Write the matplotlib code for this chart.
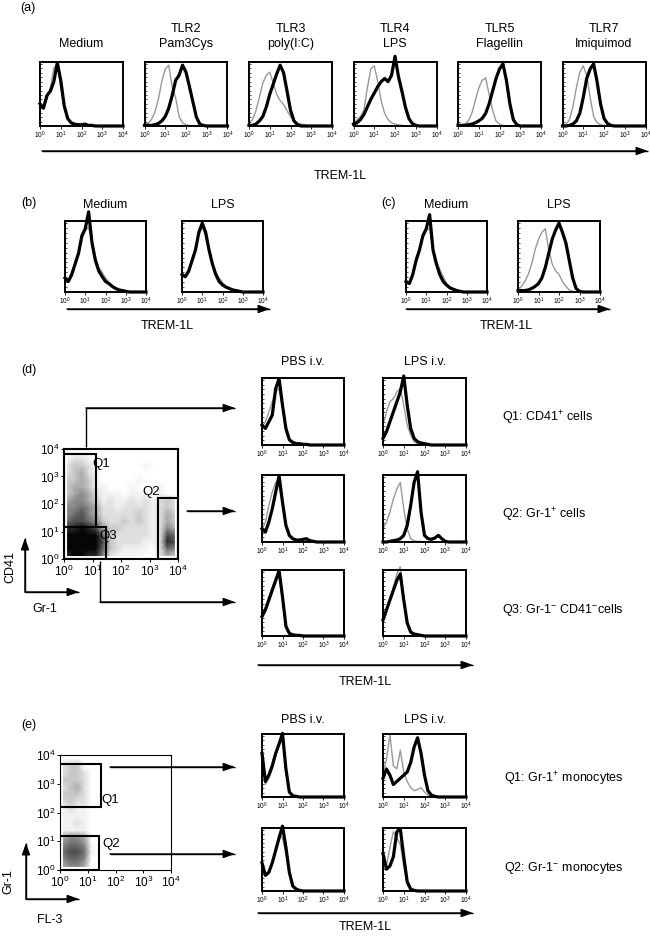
import numpy as np
import matplotlib
matplotlib.use('Agg')
import matplotlib.pyplot as plt
from matplotlib.patches import Rectangle

plt.rcParams['font.family'] = ['Liberation Sans', 'DejaVu Sans']
plt.rcParams['mathtext.fontset'] = 'custom'
plt.rcParams['mathtext.rm'] = 'Liberation Sans'
plt.rcParams['mathtext.it'] = 'Liberation Sans:italic'
plt.rcParams['mathtext.bf'] = 'Liberation Sans:bold'

W, H = 650, 936

# fluorescence channels: 6 per decade, 10^0 .. 10^4
channels = np.logspace(0, 4, 25)

# ---- (a) TLR ligands, % of max events (gray = isotype, black = TREM-1L)
a_titles = ['Medium', 'TLR2\nPam3Cys', 'TLR3\npoly(I:C)', 'TLR4\nLPS',
            'TLR5\nFlagellin', 'TLR7\nImiquimod']
a_gray = [
    [30, 30, 42, 60, 92, 95, 62, 28, 10, 4, 2, 1, 1, 2, 1, 0, 0, 0, 0, 0, 0, 0, 0, 0, 0],
    [2, 4, 10, 22, 42, 70, 90, 96, 62, 45, 15, 5, 2, 1, 0, 0, 0, 0, 0, 0, 0, 0, 0, 0, 0],
    [5, 10, 24, 45, 68, 80, 85, 68, 50, 40, 34, 24, 15, 9, 5, 3, 2, 0, 0, 0, 0, 0, 0, 0, 0],
    [5, 10, 15, 25, 60, 90, 95, 70, 40, 20, 10, 5, 3, 2, 1, 0, 0, 0, 0, 0, 0, 0, 0, 0, 0],
    [0, 1, 3, 8, 20, 40, 60, 72, 76, 50, 25, 8, 3, 1, 0, 0, 0, 0, 0, 0, 0, 0, 0, 0, 0],
    [1, 3, 10, 30, 60, 85, 95, 80, 45, 15, 5, 2, 1, 0, 0, 0, 0, 0, 0, 0, 0, 0, 0, 0, 0],
]
a_black = [
    [35, 28, 48, 55, 70, 100, 72, 32, 12, 5, 3, 2, 2, 3, 1, 1, 0, 0, 0, 0, 0, 0, 0, 0, 0],
    [1, 1, 1, 2, 4, 8, 15, 28, 48, 72, 80, 96, 85, 62, 38, 14, 3, 1, 0, 0, 0, 0, 0, 0, 0],
    [1, 1, 3, 8, 15, 30, 50, 66, 82, 96, 84, 55, 25, 8, 2, 0, 0, 0, 0, 0, 0, 0, 0, 0, 0],
    [3, 5, 10, 18, 30, 42, 52, 62, 70, 75, 70, 80, 110, 78, 55, 30, 12, 4, 1, 0, 0, 0, 0, 0, 0],
    [1, 1, 1, 2, 3, 5, 8, 12, 20, 35, 55, 75, 90, 98, 72, 35, 10, 2, 0, 0, 0, 0, 0, 0, 0],
    [0, 0, 1, 3, 8, 20, 45, 75, 90, 98, 70, 35, 12, 4, 1, 0, 0, 0, 0, 0, 0, 0, 0, 0, 0],
]

# ---- (b) and (c): Medium / LPS
bc_titles = ['Medium', 'LPS', 'Medium', 'LPS']
bc_gray = [
    [18, 15, 22, 38, 52, 75, 88, 92, 72, 50, 35, 28, 20, 14, 9, 6, 3, 2, 1, 0, 0, 0, 0, 0, 0],
    [22, 20, 28, 42, 58, 82, 92, 80, 62, 42, 28, 20, 14, 8, 5, 3, 2, 1, 0, 0, 0, 0, 0, 0, 0],
    [12, 12, 22, 42, 58, 78, 88, 90, 62, 45, 32, 22, 12, 7, 4, 2, 1, 0, 0, 0, 0, 0, 0, 0, 0],
    [3, 8, 15, 25, 40, 60, 75, 85, 90, 60, 40, 30, 25, 15, 8, 3, 1, 0, 0, 0, 0, 0, 0, 0, 0],
]
bc_black = [
    [20, 15, 25, 40, 55, 80, 90, 114, 70, 45, 30, 22, 15, 12, 8, 5, 3, 2, 1, 0, 0, 0, 0, 0, 0],
    [25, 22, 30, 45, 60, 85, 98, 85, 60, 40, 25, 15, 10, 7, 5, 3, 2, 1, 0, 0, 0, 0, 0, 0, 0],
    [15, 12, 25, 45, 60, 80, 90, 110, 60, 40, 25, 15, 10, 6, 4, 2, 1, 0, 0, 0, 0, 0, 0, 0, 0],
    [2, 2, 2, 3, 5, 8, 12, 20, 35, 55, 75, 88, 98, 85, 70, 45, 20, 5, 1, 0, 0, 0, 0, 0, 0],
]

# ---- (d) PBS / LPS i.v., gates Q1..Q3 (rows), columns PBS, LPS
d_labels = ['Q1: CD41$^{+}$ cells', 'Q2: Gr-1$^{+}$ cells',
            'Q3: Gr-1$^{-}$ CD41$^{-}$cells']
d_gray = [
    [[28, 35, 50, 65, 80, 85, 55, 20, 6, 3, 1, 1, 0, 0, 0, 0, 0, 0, 0, 0, 0, 0, 0, 0, 0],
     [30, 50, 65, 70, 80, 85, 60, 30, 15, 5, 2, 1, 0, 0, 0, 0, 0, 0, 0, 0, 0, 0, 0, 0, 0]],
    [[18, 30, 55, 75, 90, 85, 55, 22, 8, 4, 2, 2, 3, 3, 1, 0, 0, 0, 0, 0, 0, 0, 0, 0, 0],
     [20, 30, 45, 65, 80, 90, 50, 20, 5, 2, 1, 1, 0, 0, 0, 0, 0, 0, 0, 0, 0, 0, 0, 0, 0]],
    [[25, 45, 60, 75, 88, 92, 55, 12, 3, 1, 0, 0, 0, 0, 0, 0, 0, 0, 0, 0, 0, 0, 0, 0, 0],
     [20, 35, 55, 75, 95, 106, 60, 18, 5, 2, 1, 0, 0, 0, 0, 0, 0, 0, 0, 0, 0, 0, 0, 0, 0]],
]
d_black = [
    [[30, 25, 35, 45, 85, 100, 60, 25, 8, 4, 2, 2, 1, 1, 0, 0, 0, 0, 0, 0, 0, 0, 0, 0, 0],
     [10, 20, 35, 50, 65, 80, 104, 60, 25, 10, 5, 3, 2, 1, 0, 0, 0, 0, 0, 0, 0, 0, 0, 0, 0]],
    [[20, 15, 30, 50, 75, 100, 60, 25, 10, 5, 3, 3, 4, 5, 2, 1, 0, 0, 0, 0, 0, 0, 0, 0, 0],
     [0, 0, 1, 2, 3, 5, 10, 25, 55, 90, 106, 45, 10, 5, 4, 6, 10, 5, 1, 0, 0, 0, 0, 0, 0]],
    [[30, 40, 55, 70, 85, 100, 60, 15, 4, 2, 1, 1, 0, 0, 0, 0, 0, 0, 0, 0, 0, 0, 0, 0, 0],
     [25, 40, 55, 70, 85, 95, 55, 20, 6, 3, 2, 1, 0, 0, 0, 0, 0, 0, 0, 0, 0, 0, 0, 0, 0]],
]

# CD41 (rows, 10^4 at top) vs Gr-1 (columns), 4 bins per decade, density 0-9
d_density = [
    "0000000000000000",
    "1221000000000000",
    "2332000000010000",
    "2342100000000000",
    "3343100000100000",
    "3443110001000100",
    "3454211101110100",
    "4554312112121232",
    "5565422122221232",
    "5675422222321243",
    "6776532232321243",
    "8898743322221254",
    "9999963222221276",
    "9999973222211287",
    "9999963211110265",
    "8998852111100243",
]
# gates as log10 (x0, x1, y0, y1)
d_gates = [(0.0, 1.13, 1.15, 3.8), (3.3, 4.0, 0.0, 2.2), (0.0, 1.47, 0.0, 1.15)]
d_gate_names = ['Q1', 'Q2', 'Q3']
d_gate_label_pos = [(1.3, 3.45), (3.05, 2.45), (1.55, 0.82)]

# ---- (e) monocytes, gates Q1, Q2
e_labels = ['Q1: Gr-1$^{+}$ monocytes', 'Q2: Gr-1$^{-}$ monocytes']
e_gray = [
    [[50, 20, 30, 45, 65, 85, 90, 50, 10, 2, 1, 0, 0, 0, 0, 0, 0, 0, 0, 0, 0, 0, 0, 0, 0],
     [40, 60, 100, 50, 45, 75, 40, 25, 15, 10, 12, 15, 8, 3, 1, 0, 0, 0, 0, 0, 0, 0, 0, 0, 0]],
    [[40, 25, 28, 45, 70, 90, 85, 60, 30, 10, 4, 1, 0, 0, 0, 0, 0, 0, 0, 0, 0, 0, 0, 0, 0],
     [50, 40, 70, 95, 85, 75, 40, 10, 2, 0, 0, 0, 0, 0, 0, 0, 0, 0, 0, 0, 0, 0, 0, 0, 0]],
]
e_black = [
    [[70, 25, 35, 50, 70, 85, 102, 45, 8, 2, 1, 0, 0, 0, 0, 0, 0, 0, 0, 0, 0, 0, 0, 0, 0],
     [30, 45, 35, 20, 25, 30, 35, 40, 55, 80, 95, 70, 35, 10, 3, 1, 0, 0, 0, 0, 0, 0, 0, 0, 0]],
    [[45, 25, 30, 45, 65, 85, 104, 70, 30, 8, 3, 1, 0, 0, 0, 0, 0, 0, 0, 0, 0, 0, 0, 0, 0],
     [60, 35, 40, 55, 95, 100, 55, 15, 3, 1, 0, 0, 0, 0, 0, 0, 0, 0, 0, 0, 0, 0, 0, 0, 0]],
]
# Gr-1 (rows, 10^4 at top) vs FL-3 (columns)
e_density = [
    "0000000000000000",
    "2330000000000000",
    "2332000000000000",
    "3332000000000000",
    "2342000000000000",
    "3332000000000000",
    "2322000000000000",
    "1211000000000000",
    "1111000000000000",
    "1121000000000000",
    "1111000000000000",
    "4554000000000000",
    "5665100000000000",
    "6776100000000000",
    "5665000000000000",
    "4554000000000000",
]
e_gates = [(0.0, 1.48, 2.2, 3.7), (0.0, 1.4, 0.0, 1.2)]
e_gate_names = ['Q1', 'Q2']
e_gate_label_pos = [(1.8, 2.45), (1.85, 0.9)]


def px_axes(fig, x0, y0, x1, y1):
    """axes from a pixel box (origin top left)"""
    return fig.add_axes([x0 / W, 1 - y1 / H, (x1 - x0) / W, (y1 - y0) / H])


def histo(fig, box, gray, black):
    ax = px_axes(fig, *box)
    ax.plot(channels, gray, color='#999999', lw=1.0, clip_on=False)
    ax.plot(channels, black, color='black', lw=2.3, clip_on=False)
    ax.set_xscale('log')
    ax.set_xlim(1, 1e4)
    ax.set_ylim(0, 101)
    ax.set_xticks([1, 10, 100, 1000, 10000])
    for s in ax.spines.values():
        s.set_linewidth(1.4)
    ax.tick_params(axis='x', which='major', labelsize=4.8, length=2, width=0.6, pad=1)
    ax.tick_params(axis='x', which='minor', length=1.2, width=0.4)
    ax.set_yticks(np.arange(0, 101, 7))
    ax.tick_params(axis='y', length=1.5, width=0.5, direction='in', labelleft=False)
    return ax


def dotplot(fig, box, density, gates, names, label_pos, frame_lw):
    ax = px_axes(fig, *box)
    dens = np.array([[int(c) for c in row] for row in density], dtype=float)[::-1]
    centers = np.logspace(0.125, 3.875, 16)
    ax.pcolormesh(centers, centers, dens, cmap='Greys', vmin=0, vmax=9.2,
                  shading='gouraud', rasterized=True)
    ax.set_xscale('log')
    ax.set_yscale('log')
    ax.set_xlim(1, 1e4)
    ax.set_ylim(1, 1e4)
    ax.set_xticks([1, 10, 100, 1000, 10000])
    ax.set_yticks([1, 10, 100, 1000, 10000])
    for (gx0, gx1, gy0, gy1) in gates:
        ax.add_patch(Rectangle((10 ** gx0, 10 ** gy0), 10 ** gx1 - 10 ** gx0,
                               10 ** gy1 - 10 ** gy0, fill=False, ec='black', lw=1.5))
    for name, (lx, ly) in zip(names, label_pos):
        ax.text(10 ** lx, 10 ** ly, name, fontsize=9.5, ha='center', va='center')
    for s in ax.spines.values():
        s.set_linewidth(frame_lw)
    ax.tick_params(which='major', labelsize=8.5, length=2.5, width=0.7, pad=1)
    ax.tick_params(which='minor', length=1.3, width=0.4)
    return ax


def arrow(ov, pts):
    xs = [p[0] for p in pts]
    ys = [p[1] for p in pts]
    ov.plot(xs, ys, color='black', lw=1.0, solid_capstyle='butt')
    ov.annotate('', xy=pts[-1], xytext=pts[-2],
                arrowprops=dict(arrowstyle='-|>,head_length=0.7,head_width=0.25',
                                color='black', lw=1.0, shrinkA=0, shrinkB=0))


fig = plt.figure(figsize=(W / 100, H / 100), dpi=100)

# (a)
for i in range(6):
    x0 = 40 + i * 104.5
    histo(fig, (x0, 62, x0 + 83, 126), a_gray[i], a_black[i])

# (b), (c)
bc_boxes = [(65, 146), (182, 263), (406, 487), (518, 600)]
for (x0, x1), g, b in zip(bc_boxes, bc_gray, bc_black):
    histo(fig, (x0, 221, x1, 292), g, b)

# (d)
d_cols = [(262, 344), (383, 466)]
d_rows = [(378, 445), (475, 542), (570, 636)]
for r, (y0, y1) in enumerate(d_rows):
    for c, (x0, x1) in enumerate(d_cols):
        histo(fig, (x0, y0, x1, y1), d_gray[r][c], d_black[r][c])
dotplot(fig, (64, 449, 178, 559), d_density, d_gates, d_gate_names,
        d_gate_label_pos, 1.5)

# (e)
e_rows = [(734, 797), (828, 891)]
for r, (y0, y1) in enumerate(e_rows):
    for c, (x0, x1) in enumerate(d_cols):
        histo(fig, (x0, y0, x1, y1), e_gray[r][c], e_black[r][c])
dotplot(fig, (60, 755, 171, 870), e_density, e_gates, e_gate_names,
        e_gate_label_pos, 0.8)

# overlay in pixel coordinates for labels and arrows
ov = fig.add_axes([0, 0, 1, 1])
ov.set_xlim(0, W)
ov.set_ylim(H, 0)
ov.axis('off')

fs = 9
ov.text(20, 8, '(a)', fontsize=fs, va='center')
for i, t in enumerate(a_titles):
    xc = 40 + i * 104.5 + 41.5
    ov.text(xc, 50, t, fontsize=fs, ha='center', va='bottom', linespacing=1.35)
arrow(ov, [(42, 151), (648, 151)])
ov.text(340, 176, 'TREM-1L', fontsize=fs, ha='center', va='center')

ov.text(21, 203, '(b)', fontsize=fs, va='center')
ov.text(381, 203, '(c)', fontsize=fs, va='center')
for (x0, x1), t in zip(bc_boxes, bc_titles):
    ov.text((x0 + x1) / 2, 211, t, fontsize=fs, ha='center', va='bottom')
arrow(ov, [(67, 309), (270, 309)])
arrow(ov, [(406, 309), (610, 309)])
ov.text(167, 326, 'TREM-1L', fontsize=fs, ha='center', va='center')
ov.text(506, 326, 'TREM-1L', fontsize=fs, ha='center', va='center')

ov.text(21, 370, '(d)', fontsize=fs, va='center')
ov.text(303, 362, 'PBS i.v.', fontsize=fs, ha='center', va='center')
ov.text(425, 362, 'LPS i.v.', fontsize=fs, ha='center', va='center')
for (y0, y1), t in zip(d_rows, d_labels):
    ov.text(502, y0 + 0.6 * (y1 - y0), t, fontsize=fs, va='center')
arrow(ov, [(86, 447), (86, 408), (235, 408)])
arrow(ov, [(187, 511), (235, 511)])
arrow(ov, [(100, 561), (100, 602), (235, 602)])
arrow(ov, [(25, 592), (25, 538)])
arrow(ov, [(25, 592), (79, 592)])
ov.text(10, 567, 'CD41', fontsize=fs, rotation=90, ha='center', va='center')
ov.text(45, 609, 'Gr-1', fontsize=fs, ha='center', va='center')
arrow(ov, [(258, 665), (473, 665)])
ov.text(365, 682, 'TREM-1L', fontsize=fs, ha='center', va='center')

ov.text(21, 725, '(e)', fontsize=fs, va='center')
ov.text(303, 720, 'PBS i.v.', fontsize=fs, ha='center', va='center')
ov.text(425, 720, 'LPS i.v.', fontsize=fs, ha='center', va='center')
ov.text(504, 779, e_labels[0], fontsize=fs, va='center')
ov.text(504, 868, e_labels[1], fontsize=fs, va='center')
arrow(ov, [(110, 767), (235, 767)])
arrow(ov, [(110, 854), (235, 854)])
arrow(ov, [(26, 899), (26, 843)])
arrow(ov, [(26, 899), (79, 899)])
ov.text(8, 882, 'Gr-1', fontsize=fs, rotation=90, ha='center', va='center')
ov.text(50, 920, 'FL-3', fontsize=fs, ha='center', va='center')
arrow(ov, [(258, 913), (473, 913)])
ov.text(365, 927, 'TREM-1L', fontsize=fs, ha='center', va='center')

fig.savefig('out.png', dpi=100)
